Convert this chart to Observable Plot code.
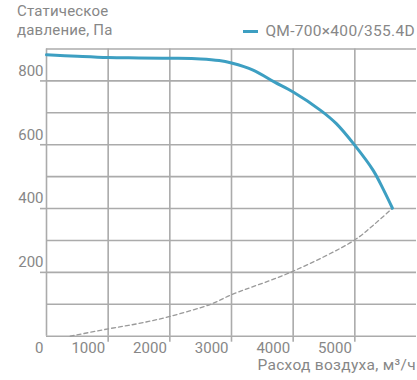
<!DOCTYPE html>
<html>
<head>
<meta charset="utf-8">
<script src="https://cdn.jsdelivr.net/npm/d3@7"></script>
<script src="https://cdn.jsdelivr.net/npm/@observablehq/plot@0.6"></script>
<style>
  html, body { margin: 0; padding: 0; background: #fff; }
  #wrap { position: relative; width: 417px; height: 380px; font-family: Roboto, "Open Sans", sans-serif; color: #878787; overflow: hidden; }
  #title { position: absolute; left: 17px; top: 2px; font-size: 15px; line-height: 19px; letter-spacing: 0.2px; }
  #legend { position: absolute; right: 2px; top: 23px; font-size: 15.5px; line-height: 17px; letter-spacing: 0.3px; display: flex; align-items: center; white-space: nowrap; }
  #legend .sw { display: inline-block; width: 15px; height: 3px; background: #3d9fc2; margin-right: 7px; }
  #chart { position: absolute; left: 0; top: 40px; }
  #xlabel { position: absolute; right: 1px; top: 357px; font-size: 15.5px; line-height: 16px; letter-spacing: 0.3px; white-space: nowrap; }
</style>
</head>
<body>
<div id="wrap">
  <div id="title">Статическое<br>давление, Па</div>
  <div id="legend"><span class="sw"></span><span id="legtext"></span></div>
  <div id="chart"></div>
  <div id="xlabel">Расход воздуха, м³/ч</div>
</div>
<script>
const seriesName = "QM-700×400/355.4D";
// Fan curve: air flow (m³/h) and static pressure (Pa)
const fanFlow = [0, 500, 1000, 1500, 2000, 2500, 2800, 3000, 3350, 3700, 4000, 4450, 4700, 5000, 5300, 5470, 5610];
const fanPressure = [882, 877, 873, 872, 871, 869, 864, 856, 834, 796, 765, 707, 666, 598, 519, 457, 401];
// System (network) curve, dashed
const sysFlow = [385, 1000, 1500, 2000, 2660, 3000, 3955, 4985, 5300, 5610];
const sysPressure = [0, 23, 40, 62, 100, 130, 200, 300, 348, 401];
// Ticks
const xGridTicks = [0, 1000, 2000, 3000, 4000, 5000];
const xTickMarks = [1000, 2000, 3000, 4000, 5000];
const yGridTicks = [0, 100, 200, 300, 400, 500, 600, 700, 800, 900];
const yLabelTicks = [200, 400, 600, 800];

document.getElementById("legtext").textContent = seriesName;

const fan = fanFlow.map((q, i) => ({q, p: fanPressure[i]}));
const sys = sysFlow.map((q, i) => ({q, p: sysPressure[i]}));

const gridColor = "#ababab";
const textColor = "#878787";

const chart = Plot.plot({
  width: 417,
  height: 315,
  marginLeft: 46,
  marginRight: 1,
  marginTop: 8.5,
  marginBottom: 19.3,
  style: {fontFamily: "Roboto, 'Open Sans', sans-serif", fontSize: "15px", background: "transparent", overflow: "visible"},
  x: {domain: [0, 6000], axis: null},
  y: {domain: [0, 900], axis: null},
  marks: [
    Plot.ruleY(yGridTicks, {stroke: gridColor, strokeWidth: 1.6}),
    Plot.ruleX(xGridTicks, {stroke: gridColor, strokeWidth: 1.6}),
    Plot.axisY(yLabelTicks, {tickSize: 6, text: null, label: null, stroke: gridColor, strokeWidth: 1.6}),
    Plot.axisY(yLabelTicks, {tickSize: 0, tickPadding: 3, dy: -10, label: null, fill: textColor, tickFormat: d => String(d), fontSize: 15}),
    Plot.axisX(xTickMarks, {tickSize: 6, text: null, label: null, stroke: gridColor, strokeWidth: 1.6}),
    Plot.axisX(xGridTicks, {tickSize: 0, tickPadding: 6, textAnchor: "end", dx: -3, label: null, fill: textColor, tickFormat: d => String(d), fontSize: 15}),
    Plot.line(sys, {x: "q", y: "p", stroke: "#9a9a9a", strokeWidth: 1.3, strokeDasharray: "4,3", curve: "catmull-rom"}),
    Plot.line(fan, {x: "q", y: "p", stroke: "#3d9fc2", strokeWidth: 3, curve: "catmull-rom"})
  ]
});
document.getElementById("chart").appendChild(chart);
</script>
</body>
</html>
